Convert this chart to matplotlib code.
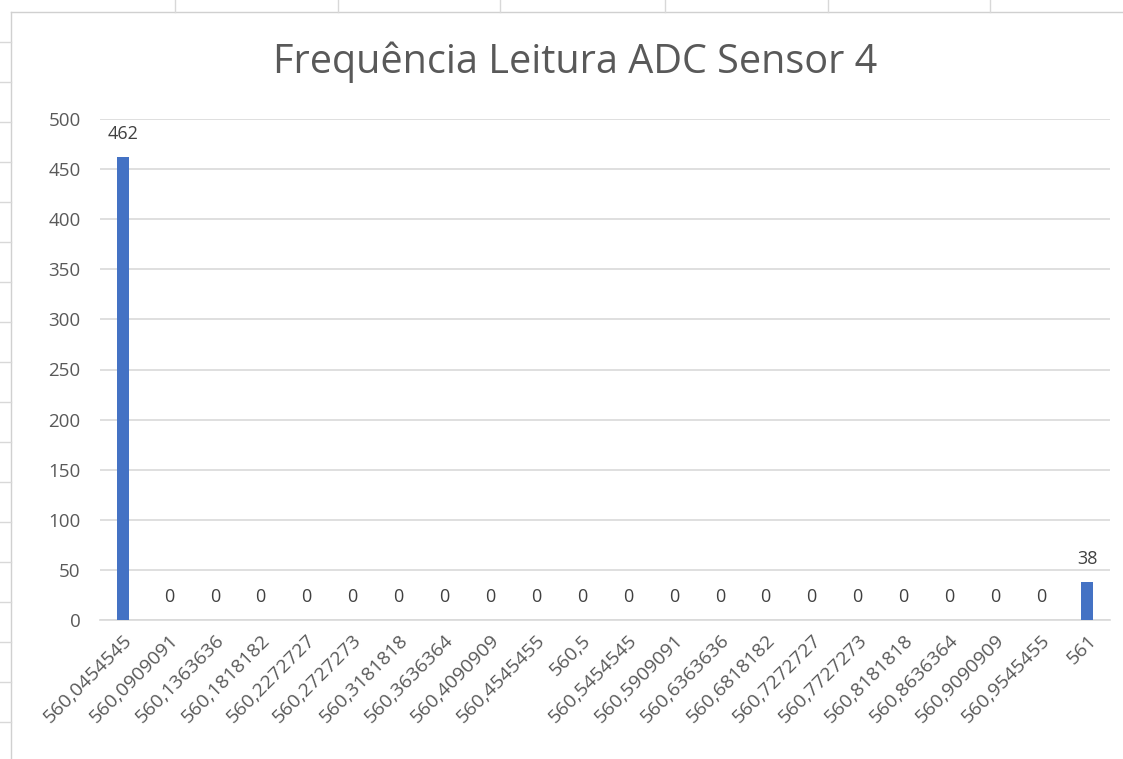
import matplotlib.pyplot as plt
import numpy as np
from matplotlib.lines import Line2D

# dados
categorias = ["560,0454545", "560,0909091", "560,1363636", "560,1818182", "560,2272727",
              "560,2727273", "560,3181818", "560,3636364", "560,4090909", "560,4545455",
              "560,5", "560,5454545", "560,5909091", "560,6363636", "560,6818182",
              "560,7272727", "560,7727273", "560,8181818", "560,8636364", "560,9090909",
              "560,9545455", "561"]
frequencia = [462, 0, 0, 0, 0, 0, 0, 0, 0, 0, 0, 0, 0, 0, 0, 0, 0, 0, 0, 0, 0, 38]
y_ticks = [0, 50, 100, 150, 200, 250, 300, 350, 400, 450, 500]

plt.rcParams['font.family'] = ['Open Sans', 'DejaVu Sans']
cinza = '#595959'

fig = plt.figure(figsize=(11.23, 7.59), dpi=100)
ax = fig.add_axes([100 / 1123, 1 - 620 / 759, 1010 / 1123, 501 / 759])

x = np.arange(len(categorias))
bars = ax.bar(x, frequencia, width=0.28, color='#4472C4', zorder=3)

for b, v in zip(bars, frequencia):
    ax.annotate(str(v), xy=(b.get_x() + b.get_width() / 2, v), xytext=(0, 10),
                textcoords='offset points', ha='center', va='bottom',
                fontsize=13, color='#404040')

ax.set_xlim(-0.5, len(categorias) - 0.5)
ax.set_ylim(0, 500)
ax.set_yticks(y_ticks)
ax.yaxis.grid(True, color='#d9d9d9', linewidth=1.2, zorder=0)
ax.set_xticks(x)
ax.set_xticklabels(categorias, rotation=45, ha='right', rotation_mode='anchor',
                   fontsize=14, color=cinza)
ax.tick_params(axis='y', length=0, labelsize=13.5, labelcolor=cinza, pad=14)
ax.tick_params(axis='x', length=0, pad=8)
for s in ['top', 'right', 'left']:
    ax.spines[s].set_visible(False)
ax.spines['bottom'].set_color('#d9d9d9')
ax.spines['bottom'].set_linewidth(1.2)

fig.text(575 / 1123, 1 - 62 / 759, 'Frequência Leitura ADC Sensor 4', ha='center',
         va='center', fontsize=28.5, color=cinza)

# moldura da planilha por trás do gráfico
fig.add_artist(Line2D([11 / 1123, 1], [1 - 12 / 759] * 2, color='#d0d0d0', lw=1))
fig.add_artist(Line2D([11 / 1123] * 2, [0, 1 - 12 / 759], color='#d0d0d0', lw=1))
for px in [175, 338, 500, 665, 828, 990]:
    fig.add_artist(Line2D([px / 1123] * 2, [1 - 12 / 759, 1], color='#d8d8d8', lw=1))
for py in range(42, 759, 40):
    fig.add_artist(Line2D([0, 11 / 1123], [1 - py / 759] * 2, color='#d8d8d8', lw=1))

fig.savefig('out.png', dpi=100)
